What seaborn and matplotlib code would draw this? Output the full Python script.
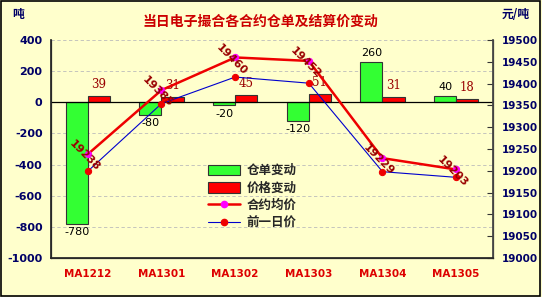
import numpy as np
import pandas as pd
import matplotlib
matplotlib.use("Agg")
import matplotlib.pyplot as plt
import seaborn as sns
from matplotlib.lines import Line2D
from matplotlib.patches import Patch, Rectangle

contracts = ["MA1212", "MA1301", "MA1302", "MA1303", "MA1304", "MA1305"]
warrant_change = [-780, -80, -20, -120, 260, 40]      # 仓单变动
price_change = [39, 31, 45, 51, 31, 18]               # 价格变动
avg_price = [19238, 19385, 19460, 19452, 19229, 19203]  # 合约均价
prev_price = [19199, 19354, 19415, 19401, 19198, 19185] # 前一日价
left_ticks = [-1000, -800, -600, -400, -200, 0, 200, 400]
right_ticks = [19000, 19050, 19100, 19150, 19200, 19250, 19300, 19350, 19400, 19450, 19500]

sns.set_theme(style="white")
plt.rcParams['font.family'] = ['DejaVu Sans', 'Noto Sans CJK SC']
plt.rcParams['axes.unicode_minus'] = False

BG = "#FFFFCC"
CJK = ['Noto Sans CJK SC', 'DejaVu Sans']

fig = plt.figure(figsize=(5.42, 2.97), dpi=100, facecolor=BG)
ax = fig.add_axes([0.094, 0.1313, 0.8156, 0.734])
ax.set_facecolor(BG)

df = pd.DataFrame({
    "contract": contracts * 2,
    "value": warrant_change + price_change,
    "series": ["仓单变动"] * 6 + ["价格变动"] * 6,
})
sns.barplot(data=df, x="contract", y="value", hue="series", order=contracts,
            hue_order=["仓单变动", "价格变动"],
            palette=["#33FF33", "#FF0000"], width=0.6, dodge=True,
            edgecolor="#333333", linewidth=0.8, saturation=1, ax=ax, legend=False,
            zorder=3)

ax.set_ylim(-1000, 400)
ax.set_yticks(left_ticks)
ax.set_yticklabels([str(t) for t in left_ticks], color="#000066", fontweight="bold", fontsize=8)
for t in left_ticks:
    if t != 0:
        ax.axhline(t, color="#BBBBBB", linestyle=(0, (4, 3)), linewidth=0.6, zorder=1)
ax.axhline(0, color="black", linewidth=0.9, zorder=4)
ax.set_xlim(-0.5, 5.5)
ax.set_xlabel("")
ax.set_ylabel("")
ax.set_xticks(range(6))
ax.set_xticklabels(contracts, color="#DD0000", fontweight="bold", fontsize=7.5)
ax.tick_params(axis="x", length=0, pad=8)
ax.tick_params(axis="y", length=0, pad=6)
for s in ["left", "bottom", "top", "right"]:
    ax.spines[s].set_color("#444444")
    ax.spines[s].set_linewidth(0.9)
ax.spines["top"].set_visible(False)

# bar value labels
for i, v in enumerate(warrant_change):
    x = i - 0.15
    if v < 0:
        ax.text(x, v - 22, str(v), ha="center", va="top", fontsize=8, color="black")
    else:
        ax.text(x, v + 25, str(v), ha="center", va="bottom", fontsize=8, color="black")
for i, v in enumerate(price_change):
    ax.text(i + 0.15, v + 35, str(v), ha="center", va="bottom", fontsize=8.5,
            color="#990000", family="DejaVu Serif")

ax2 = ax.twinx()
ax2.set_ylim(19000, 19500)
ax2.set_yticks(right_ticks)
ax2.set_yticklabels([str(t) for t in right_ticks], color="#000066", fontweight="bold", fontsize=7.5)
ax2.tick_params(axis="y", direction="in", length=4, width=0.8, color="#333333", pad=6)
ax2.spines["top"].set_visible(False)
ax2.spines["right"].set_color("#444444")
ax2.set_ylabel("")

xs = np.arange(6)
sns.lineplot(x=xs, y=avg_price, ax=ax2, color="#EE0000", linewidth=1.8, sort=False,
             marker="o", markersize=4.5, markerfacecolor="#FF00FF", markeredgecolor="#FF00FF", zorder=6)
sns.lineplot(x=xs, y=prev_price, ax=ax2, color="#0000CC", linewidth=0.8, sort=False,
             marker="o", markersize=4.5, markerfacecolor="#EE0000", markeredgecolor="#EE0000", zorder=5)
ax2.set_xlim(-0.5, 5.5)
for i, v in enumerate(avg_price):
    ax2.text(i - 0.05, v - 4, str(v), rotation=-45, ha="center", va="center", rotation_mode="anchor",
             fontsize=8, fontweight="bold", color="#990000", zorder=7)

handles = [
    Patch(facecolor="#33FF33", edgecolor="#333333", linewidth=0.8),
    Patch(facecolor="#FF0000", edgecolor="#333333", linewidth=0.8),
    Line2D([0], [0], color="#EE0000", linewidth=1.8, marker="o", markersize=4.5,
           markerfacecolor="#FF00FF", markeredgecolor="#FF00FF"),
    Line2D([0], [0], color="#0000CC", linewidth=0.8, marker="o", markersize=4.5,
           markerfacecolor="#EE0000", markeredgecolor="#EE0000"),
]
leg = ax2.legend(handles, ["仓单变动", "价格变动", "合约均价", "前一日价"],
                 loc="upper left", bbox_to_anchor=(0.335, 0.47), frameon=False,
                 prop={"family": CJK, "size": 9, "weight": "bold"},
                 handlelength=2.6, handleheight=0.9, labelspacing=0.35, borderpad=0.2,
                 handletextpad=0.5)

fig.text(0.48, 0.926, "当日电子撮合各合约仓单及结算价变动", ha="center", va="center",
         color="#CC0000", fontsize=10, fontweight="bold", family=CJK)
fig.text(0.022, 0.95, "吨", ha="left", va="center", color="#000066", fontsize=8.5,
         fontweight="bold", family=CJK)
fig.text(0.925, 0.95, "元/吨", ha="left", va="center", color="#000066", fontsize=8.5,
         fontweight="bold", family=CJK)

fig.patches.append(Rectangle((0.002, 0.004), 0.995, 0.992, transform=fig.transFigure,
                             fill=False, edgecolor="black", linewidth=1.2))

fig.savefig("out.png", dpi=100, facecolor=BG)
